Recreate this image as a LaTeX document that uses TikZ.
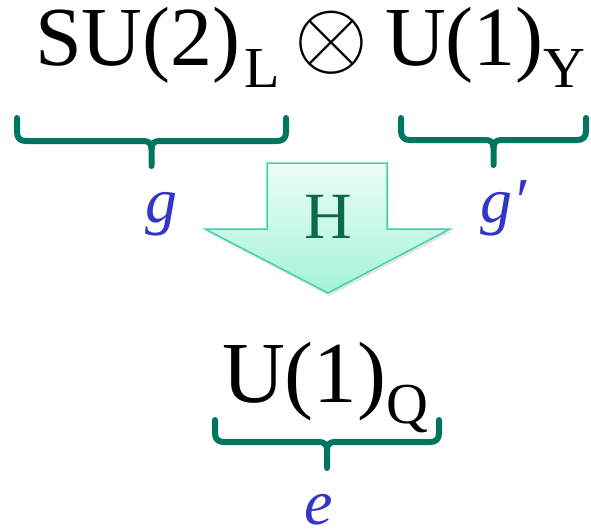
\documentclass[tikz,border=0pt]{standalone}
\usepackage{fontspec}
\setmainfont{Liberation Serif}
\usetikzlibrary{shadows}
\definecolor{bracecol}{RGB}{0,118,96}
\definecolor{varcol}{RGB}{52,52,200}
\definecolor{hcol}{RGB}{12,105,75}
\definecolor{arrtop}{RGB}{234,253,246}
\definecolor{arrbot}{RGB}{166,243,218}
\definecolor{arredge}{RGB}{60,212,170}
\newcommand\bigtxt{\fontsize{84}{90}\selectfont}
\newcommand\bigtxtb{\fontsize{87}{92}\selectfont}
\newcommand\vartxt{\fontsize{64}{70}\selectfont\itshape\color{varcol}}
\newcommand\mysub[2]{\raisebox{-#1pt}{\fontsize{58}{60}\selectfont #2}}
\newcommand\drawbrace[5]{%
  \draw[brace] (#1,#3) -- (#1,#4-9) .. controls (#1,#4-3) and (#1+3,#4) .. (#1+9,#4)
    -- ({(#1+#2)/2-8},#4) .. controls ({(#1+#2)/2-3},#4) and ({(#1+#2)/2},#4+2) .. ({(#1+#2)/2},#4+8)
    -- ({(#1+#2)/2},#5);
  \draw[brace] ({(#1+#2)/2},#4+8) .. controls ({(#1+#2)/2},#4+2) and ({(#1+#2)/2+3},#4) .. ({(#1+#2)/2+8},#4)
    -- (#2-9,#4) .. controls (#2-3,#4) and (#2,#4-3) .. (#2,#4-9) -- (#2,#3);
}
\begin{document}
\begin{tikzpicture}[x=1pt,y=-1pt,
  brace/.style={draw=bracecol, line width=6pt, line cap=round, line join=round},
  txt/.style={inner sep=0pt, outer sep=0pt}]
\useasboundingbox (0,0) rectangle (591,531);
% arrow
\path[draw=arredge, line width=1.5pt, line join=miter, top color=arrtop, bottom color=arrbot,
  drop shadow={opacity=0.2, shadow xshift=1.5pt, shadow yshift=-3pt}]
  (267,163) -- (387,163) -- (387,229) -- (450,229) -- (328,293) -- (205,229) -- (267,229) -- cycle;
\node[txt, anchor=base, font=\fontsize{66}{70}\selectfont, text=hcol] (h) at (328,238) {H};
% top text
\node[txt, anchor=base west, font=\bigtxt] (su) at (35,65) {SU(2)\hspace{4pt}\mysub{22}{L}};
\node[txt, anchor=center, scale=9.5] (ot) at (331,43) {$\otimes$};
\node[txt, anchor=base west, font=\bigtxt] (uy) at (385,65) {U(1)\mysub{22}{Y}};
% braces
\drawbrace{17}{286}{118}{141}{166}
\drawbrace{401}{586}{118}{140}{165}
\drawbrace{215}{439}{420}{442}{468}
% couplings
\node[txt, anchor=base, font=\vartxt] (g) at (161,222) {g};
\node[txt, anchor=base west, font=\vartxt] (gp) at (480,222) {g′};
\node[txt, anchor=base, font=\vartxt] (e) at (319,524) {e};
% bottom text
\node[txt, anchor=base west, font=\bigtxtb] (uq) at (222,402) {U(1)\mysub{21}{Q}};
\end{tikzpicture}
\end{document}
